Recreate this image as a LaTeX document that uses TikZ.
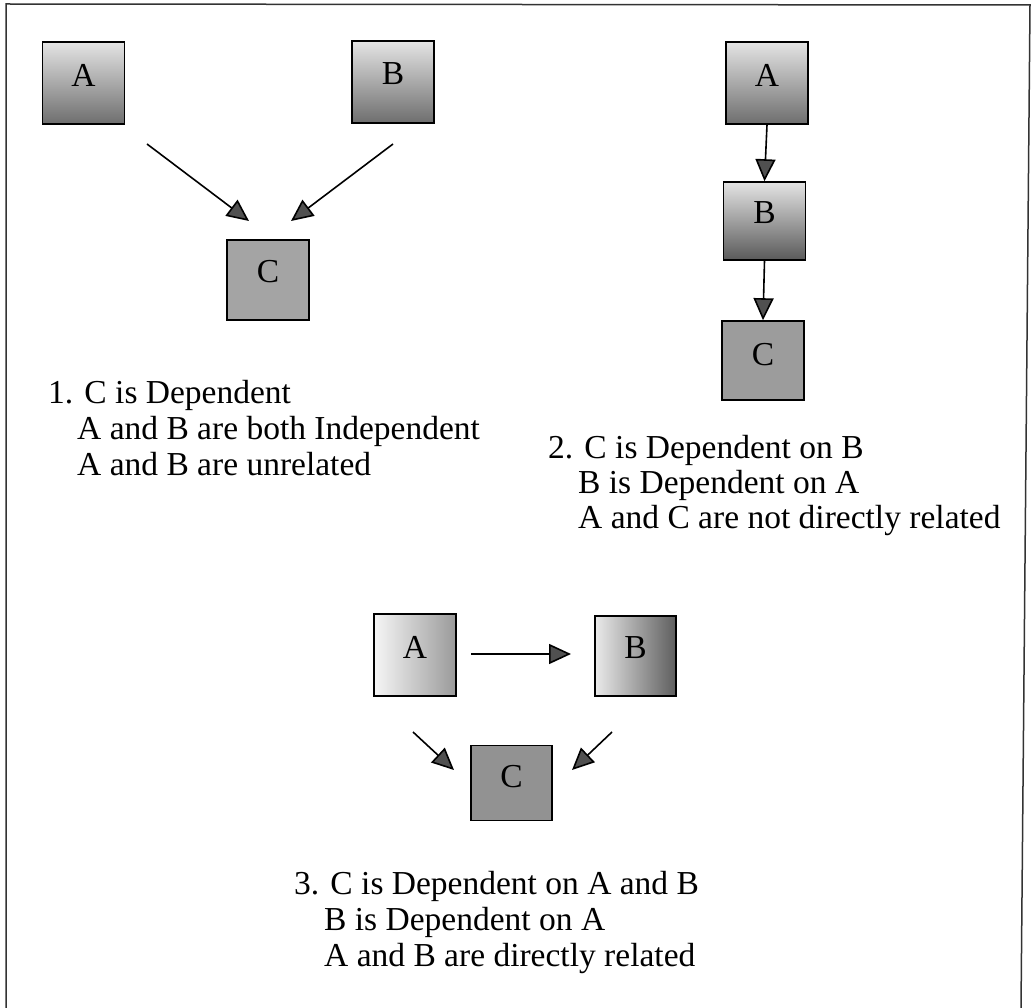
\documentclass[tikz,border=0pt]{standalone}
\usepackage{fontspec}
\setmainfont{Liberation Serif}
\usetikzlibrary{arrows.meta}
\definecolor{tipgray}{HTML}{505050}
\definecolor{vtop}{HTML}{E4E4E4}
\definecolor{vbot}{HTML}{6E6E6E}
\definecolor{vbotdark}{HTML}{5A5A5A}
\definecolor{cgrayA}{HTML}{A4A4A4}
\definecolor{cgrayB}{HTML}{9C9C9C}
\definecolor{cgrayC}{HTML}{929292}
\definecolor{hleft}{HTML}{F6F6F6}
\definecolor{hright}{HTML}{9A9A9A}
\definecolor{hleftB}{HTML}{EAEAEA}
\definecolor{hrightB}{HTML}{5E5E5E}
\tikzset{
  box/.style={draw=black, line width=1.6pt, minimum width=82pt, minimum height=82pt, inner sep=0pt},
  lab/.style={font=\fontsize{33.5}{40}\selectfont, inner sep=0pt},
  txt/.style={font=\fontsize{33.5}{40}\selectfont, inner sep=0pt, anchor=base west},
  conn/.style={draw=black, line width=1.6pt, -{Triangle[length=22pt,width=20pt,fill=tipgray]}},
  frame/.style={draw=black!80, line width=1.5pt}
}
\begin{document}
\begin{tikzpicture}[x=1pt,y=-1pt]
\useasboundingbox (0,0) rectangle (1034,1008);
\fill[white] (0,0) rectangle (1034,1008);
% frame
\draw[frame] (6,1008) -- (6,4) -- (1030,5) -- (1021,1008);

% ---------- diagram 1 ----------
\node[box, top color=vtop, bottom color=vbot, label={[lab,yshift=8pt]center:A}] (A1) at (83.5,83) {};
\node[box, top color=vtop, bottom color=vbot, label={[lab,yshift=8pt]center:B}] (B1) at (393,82) {};
\node[box, fill=cgrayA, minimum height=80pt, label={[lab,yshift=8pt]center:C}] (C1) at (268,280) {};
\coordinate (s1) at (147,144);
\coordinate (e1) at (249,221);
\coordinate (s2) at (393,144);
\coordinate (e2) at (291,221);
\draw[conn] (s1) -- (e1);
\draw[conn] (s2) -- (e2);
\node[txt] (t11) at (48,403) {1. C is Dependent};
\node[txt] (t12) at (77,439) {A and B are both Independent};
\node[txt] (t13) at (77,475) {A and B are unrelated};

% ---------- diagram 2 ----------
\node[box, top color=vtop, bottom color=vbot, label={[lab,yshift=8pt]center:A}] (A2) at (767,83) {};
\node[box, top color=vtop, bottom color=vbotdark, minimum height=78pt, label={[lab,yshift=8pt]center:B}] (B2) at (764.5,221) {};
\node[box, fill=cgrayB, minimum height=79pt, label={[lab,yshift=6pt]center:C}] (C2) at (763,360.5) {};
\draw[conn] (A2.south) -- (B2.north);
\draw[conn] (B2.south) -- (C2.north);
\node[txt] (t21) at (548,458) {2. C is Dependent on B};
\node[txt] (t22) at (578,493) {B is Dependent on A};
\node[txt] (t23) at (578,528) {A and C are not directly related};

% ---------- diagram 3 ----------
\node[box, left color=hleft, right color=hright, label={[lab,yshift=8pt]center:A}] (A3) at (415,655) {};
\node[box, left color=hleftB, right color=hrightB, minimum width=81pt, minimum height=80pt, label={[lab,yshift=8pt]center:B}] (B3) at (635.5,656) {};
\node[box, fill=cgrayC, minimum width=81pt, minimum height=75pt, label={[lab,yshift=6pt]center:C}] (C3) at (511.5,783) {};
\coordinate (s3) at (471,654);
\coordinate (e3) at (571,654);
\coordinate (s4) at (413,732);
\coordinate (e4) at (454,770);
\coordinate (s5) at (612,732);
\coordinate (e5) at (572,770);
\draw[conn] (s3) -- (e3);
\draw[conn] (s4) -- (e4);
\draw[conn] (s5) -- (e5);
\node[txt] (t31) at (294,894) {3. C is Dependent on A and B};
\node[txt] (t32) at (324,930) {B is Dependent on A};
\node[txt] (t33) at (324,966) {A and B are directly related};
\end{tikzpicture}
\end{document}
